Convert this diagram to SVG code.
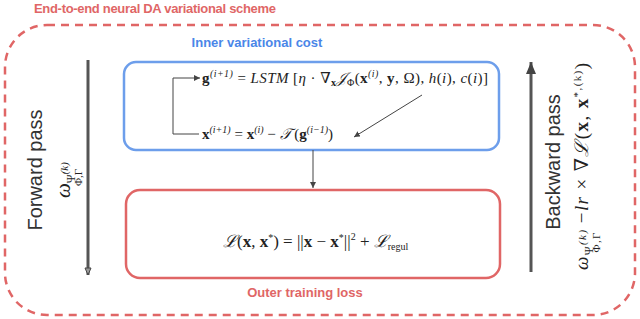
<svg xmlns="http://www.w3.org/2000/svg" width="640" height="319" viewBox="0 0 640 319">
<defs>
<style>
.red{fill:#e06666}
.hd{font-family:"Liberation Sans",Arial,sans-serif;font-weight:bold;font-size:13px}
.m{font-family:"Liberation Serif","DejaVu Serif",serif;font-size:15px;fill:#222}
.i{font-style:italic}
.b{font-weight:bold}
.s{font-size:10px}
.L{font-family:"DejaVu Serif",serif;font-style:italic}
.pass{font-family:"Liberation Sans",Arial,sans-serif;font-size:20px;fill:#333}
</style>
<marker id="open" markerWidth="10" markerHeight="10" refX="8" refY="4" orient="auto" markerUnits="userSpaceOnUse">
<path d="M1,1 L8,4 L1,7 Z" fill="#999" stroke="#444" stroke-width="1"/>
</marker>
<marker id="fill" markerWidth="14" markerHeight="12" refX="12" refY="5" orient="auto" markerUnits="userSpaceOnUse">
<path d="M0,0 L12,5 L0,10 Z" fill="#444"/>
</marker>
<marker id="small" markerWidth="8" markerHeight="8" refX="6" refY="3" orient="auto" markerUnits="userSpaceOnUse">
<path d="M0,0 L6,3 L0,6 Z" fill="#444"/>
</marker>
</defs>
<rect width="640" height="319" fill="#fff"/>
<g id="outer">
<rect x="5" y="25" width="630" height="290" rx="42" fill="none" stroke="#e06666" stroke-width="2.5" stroke-dasharray="8,6"/>
<text class="hd red" x="34" y="13" textLength="242">End-to-end neural DA variational scheme</text>
</g>
<g id="inner">
<text class="hd" x="257" y="47" fill="#4a86e8" text-anchor="middle">Inner variational cost</text>
<rect x="124" y="62" width="375" height="88" rx="12" fill="none" stroke="#6d9eeb" stroke-width="2.5"/>
<text class="m" x="202" y="83" textLength="286"><tspan class="b">g</tspan><tspan class="s i" dy="-6">(i+1)</tspan><tspan dy="6"> = </tspan><tspan class="i">LSTM</tspan> [<tspan class="i">η</tspan> · ∇<tspan class="s b" dy="3">x</tspan><tspan class="i" dy="-3">𝒥</tspan><tspan class="s" dy="3">Φ</tspan><tspan dy="-3">(</tspan><tspan class="b">x</tspan><tspan class="s i" dy="-6">(i)</tspan><tspan dy="6">, </tspan><tspan class="b">y</tspan>, Ω), <tspan class="i">h</tspan>(<tspan class="i">i</tspan>), <tspan class="i">c</tspan>(<tspan class="i">i</tspan>)]</text>
<text class="m" x="202" y="139"><tspan class="b">x</tspan><tspan class="s i" dy="-6">(i+1)</tspan><tspan dy="6"> = </tspan><tspan class="b">x</tspan><tspan class="s i" dy="-6">(i)</tspan><tspan dy="6"> − </tspan><tspan class="i">𝒯</tspan> (<tspan class="b">g</tspan><tspan class="s i" dy="-6">(i−1)</tspan><tspan dy="6">)</tspan></text>
</g>
<g id="outerloss">
<rect x="126" y="190" width="374" height="88" rx="14" fill="none" stroke="#e06666" stroke-width="2.5"/>
<text class="m" x="223" y="247" style="font-size:17px"><tspan class="L">ℒ</tspan>(<tspan class="b">x</tspan>, <tspan class="b">x</tspan><tspan class="s" dy="-6">*</tspan><tspan dy="6">) = ||</tspan><tspan class="b">x</tspan> − <tspan class="b">x</tspan><tspan class="s" dy="-6">*</tspan><tspan dy="6">||</tspan><tspan class="s" dy="-7">2</tspan><tspan dy="7"> + </tspan><tspan class="L">ℒ</tspan><tspan class="s" dy="3">regul</tspan></text>
<text class="hd red" x="305" y="297" text-anchor="middle">Outer training loss</text>
</g>
<g id="forward">
<text class="pass" transform="translate(42,170) rotate(-90)" text-anchor="middle">Forward pass</text>
<text class="m" transform="translate(70,198) rotate(-90)" style="font-size:21px"><tspan class="i">ω</tspan><tspan style="font-size:12px" dy="5">Ψ</tspan><tspan style="font-size:11px;font-style:italic" dy="-7">(k)</tspan><tspan style="font-size:11px" dx="-24" dy="14">Φ,Γ</tspan></text>
</g>
<g id="backward">
<text class="pass" transform="translate(560,162) rotate(-90)" text-anchor="middle">Backward pass</text>
<text class="m" transform="translate(588,270) rotate(-90)" style="font-size:19px" textLength="207"><tspan class="i">ω</tspan><tspan style="font-size:12px" dy="5">Ψ</tspan><tspan style="font-size:11px;font-style:italic" dy="-7">(k)</tspan><tspan style="font-size:11px" dx="-24" dy="14">Φ,Γ</tspan><tspan dx="8" dy="-12">−</tspan><tspan class="i">lr</tspan> × ∇<tspan class="L">ℒ</tspan>(<tspan class="b">x</tspan>, <tspan class="b">x</tspan><tspan style="font-size:11px" dy="-7">*,(k)</tspan><tspan dy="7">)</tspan></text>
</g>
<g id="connectors" stroke="#444" fill="none">
<path d="M88,60 V275" stroke="#555" stroke-width="3" marker-end="url(#open)"/>
<path d="M531,272 V62" stroke="#555" stroke-width="3" marker-end="url(#fill)"/>
<path d="M313,150 V188" stroke-width="1" marker-end="url(#small)"/>
<path d="M199,134 H173 V78 H200" stroke-width="1" marker-end="url(#small)"/>
<path d="M422,95 L354,137" stroke-width="1" marker-end="url(#small)"/>
</g>
</svg>
